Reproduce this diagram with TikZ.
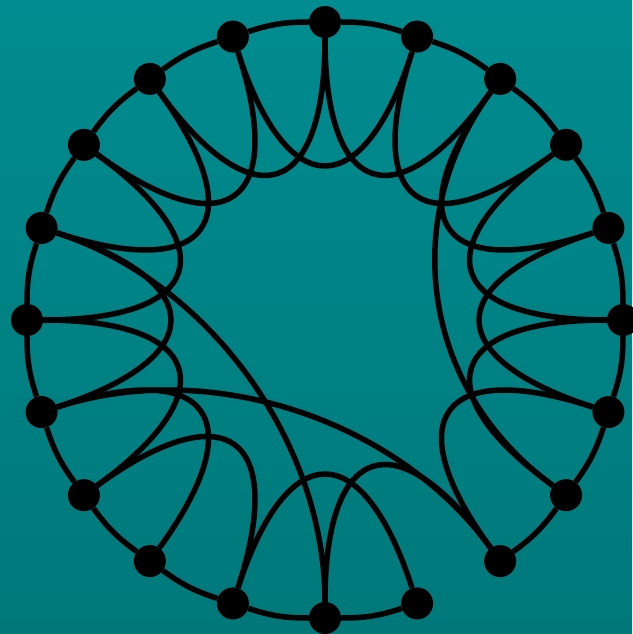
\documentclass[tikz,border=0pt]{standalone}
\begin{document}
\begin{tikzpicture}[x=1pt,y=1pt,
  dot/.style={circle,fill=black,inner sep=0pt,minimum size=32pt},
  edge/.style={draw=black,line width=5.5pt}]
\definecolor{bgtop}{RGB}{0,140,144}
\definecolor{bgbot}{RGB}{0,120,122}
\useasboundingbox (-325,-314) rectangle (307,320);
\shade[top color=bgtop,bottom color=bgbot] (-325,-314) rectangle (307,320);
\def\R{298}
\def\rc{122}
\foreach \i in {0,...,19}{
  \pgfmathsetmacro\a{90-18*\i}
  \node[dot] (n\i) at (\a:\R) {};
}
% rim arcs
\foreach \i/\j in {0/1,1/2,2/3,3/4,4/5,5/6,6/7,7/8,9/10,10/11,11/12,12/13,13/14,14/15,15/16,16/17,17/18,18/19,19/0}{
  \draw[edge] (n\i) to[bend left=9] (n\j);
}
% inner curves
\foreach \i/\j in {0/2,1/3,2/4,3/5,4/6,5/7,6/8,8/10,9/11,11/13,12/14,13/15,14/16,15/17,16/18,17/19,18/0,19/1,2/7,16/10,14/8}{
  \draw[edge] (n\i) .. controls ({90-18*\i}:\rc) and ({90-18*\j}:\rc) .. (n\j);
}
\end{tikzpicture}
\end{document}
